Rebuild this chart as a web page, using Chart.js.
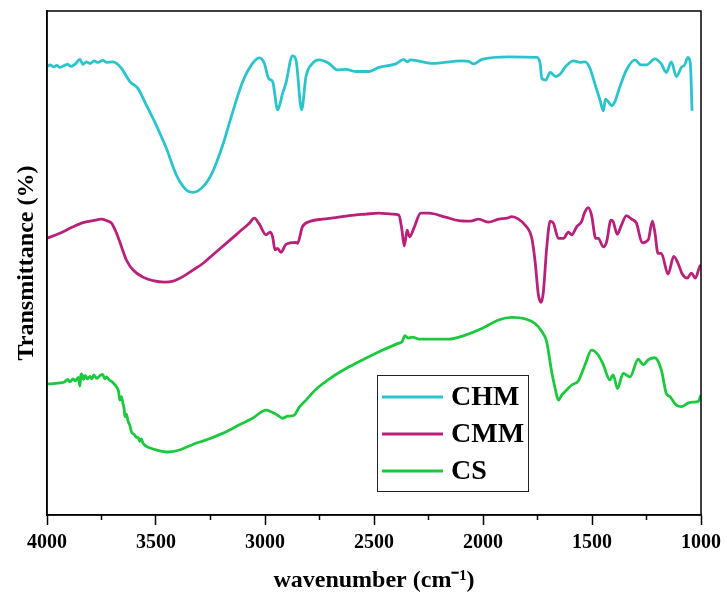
<!DOCTYPE html>
<html>
<head>
<meta charset="utf-8">
<script src="https://cdn.jsdelivr.net/npm/chart.js@4.4.0/dist/chart.umd.min.js"></script>
<style>
body { margin: 0; background: #fff; }
#wrap { width: 727px; height: 598px; }
</style>
</head>
<body>
<div id="wrap"><canvas id="ftirChart"></canvas></div>
<script>
// FTIR spectra, wavenumber in cm-1, transmittance in arbitrary offset units
var seriesNames = ['CHM', 'CMM', 'CS'];
var seriesColors = ['rgb(44, 196, 204)', 'rgb(184, 32, 122)', 'rgb(28, 200, 62)'];
var majorTicks = [4000, 3500, 3000, 2500, 2000, 1500, 1000];
var minorTicks = [3750, 3250, 2750, 2250, 1750, 1250];

var chmWn = [4000, 3985, 3970, 3955, 3941, 3925, 3905, 3890, 3870, 3849, 3835, 3820, 3800, 3785, 3765, 3744, 3725, 3700, 3681, 3658, 3620, 3584, 3544, 3506, 3453, 3407, 3361, 3331, 3285, 3240, 3194, 3148, 3102, 3057, 3026, 3003, 2983, 2965, 2942, 2919, 2904, 2874, 2858, 2832, 2812, 2782, 2752, 2706, 2668, 2629, 2584, 2523, 2477, 2401, 2363, 2348, 2332, 2233, 2096, 2066, 2043, 2005, 1883, 1753, 1738, 1730, 1712, 1692, 1666, 1646, 1623, 1585, 1555, 1532, 1509, 1483, 1463, 1448, 1438, 1425, 1410, 1395, 1372, 1342, 1303, 1276, 1250, 1212, 1182, 1159, 1136, 1113, 1090, 1075, 1060, 1049, 1041];
var chmT = [89.0, 89.3, 88.9, 89.2, 88.8, 89.1, 89.4, 89.0, 89.5, 90.4, 89.4, 89.9, 89.6, 90.1, 89.8, 90.2, 89.8, 89.9, 89.6, 88.6, 86.0, 84.7, 81.3, 78.0, 72.8, 67.5, 64.5, 64.0, 65.1, 68.1, 73.4, 80.0, 86.0, 89.6, 90.7, 89.6, 86.6, 86.0, 80.4, 83.7, 85.7, 91.1, 90.3, 80.4, 87.0, 89.6, 90.3, 89.6, 88.3, 88.4, 88.0, 88.0, 88.8, 89.5, 90.4, 89.9, 90.3, 89.6, 90.1, 90.0, 89.5, 90.4, 90.9, 90.8, 89.6, 86.6, 86.3, 87.8, 87.0, 87.5, 88.9, 90.1, 89.8, 89.9, 88.6, 85.0, 82.3, 80.2, 82.5, 82.0, 81.2, 82.0, 85.0, 88.3, 90.3, 89.3, 89.3, 90.5, 89.5, 87.8, 89.9, 87.0, 88.8, 89.3, 90.8, 89.6, 80.2];

var cmmWn = [4000, 3941, 3880, 3834, 3788, 3750, 3727, 3704, 3681, 3658, 3636, 3605, 3560, 3514, 3460, 3422, 3377, 3331, 3285, 3240, 3178, 3117, 3072, 3049, 3026, 2995, 2977, 2965, 2954, 2942, 2927, 2904, 2858, 2851, 2828, 2790, 2736, 2675, 2614, 2538, 2477, 2416, 2386, 2373, 2361, 2348, 2337, 2317, 2286, 2248, 2172, 2111, 2058, 2020, 1974, 1928, 1890, 1868, 1837, 1806, 1776, 1761, 1746, 1733, 1723, 1708, 1692, 1677, 1654, 1631, 1608, 1593, 1570, 1548, 1535, 1517, 1502, 1483, 1471, 1448, 1433, 1413, 1403, 1384, 1365, 1342, 1319, 1296, 1270, 1242, 1223, 1212, 1197, 1182, 1151, 1125, 1105, 1086, 1063, 1044, 1026, 1006, 1000];
var cmmT = [54.9, 55.9, 57.2, 58.0, 58.4, 58.7, 58.4, 57.9, 55.9, 53.2, 50.6, 48.6, 47.2, 46.5, 46.2, 46.4, 47.3, 48.6, 49.9, 51.6, 53.9, 56.2, 57.9, 58.9, 57.7, 55.6, 56.1, 55.2, 52.6, 52.9, 52.1, 53.7, 54.1, 53.9, 57.2, 58.3, 58.7, 59.0, 59.4, 59.7, 59.9, 59.7, 59.5, 56.9, 53.4, 56.5, 55.2, 56.9, 59.9, 59.9, 59.1, 58.4, 58.3, 58.7, 58.1, 58.7, 58.9, 59.2, 58.7, 57.5, 54.9, 50.3, 43.7, 42.2, 44.3, 52.9, 58.3, 57.9, 54.9, 54.9, 56.1, 55.6, 57.2, 58.2, 59.9, 61.0, 59.5, 54.9, 54.9, 53.2, 54.2, 58.5, 58.2, 55.7, 57.5, 59.4, 58.7, 57.9, 54.0, 54.6, 58.3, 56.2, 51.9, 51.9, 47.8, 51.3, 49.9, 47.8, 47.0, 48.0, 47.0, 49.3, 49.6];

var csWn = [4000, 3960, 3941, 3920, 3905, 3895, 3880, 3870, 3857, 3849, 3845, 3841, 3832, 3825, 3815, 3803, 3795, 3785, 3772, 3758, 3745, 3735, 3727, 3715, 3704, 3692, 3681, 3672, 3666, 3659, 3651, 3646, 3643, 3636, 3628, 3620, 3613, 3600, 3590, 3582, 3575, 3567, 3560, 3544, 3520, 3498, 3445, 3392, 3331, 3270, 3194, 3117, 3057, 2995, 2972, 2942, 2919, 2897, 2866, 2843, 2812, 2767, 2691, 2614, 2538, 2462, 2386, 2371, 2358, 2343, 2325, 2294, 2233, 2157, 2081, 2005, 1928, 1868, 1806, 1761, 1730, 1708, 1685, 1669, 1654, 1639, 1623, 1593, 1563, 1532, 1502, 1471, 1448, 1418, 1403, 1383, 1357, 1326, 1288, 1265, 1242, 1212, 1182, 1159, 1143, 1113, 1090, 1060, 1037, 1014, 1000];
var csT = [26.0, 26.1, 26.2, 26.4, 26.9, 26.4, 27.0, 26.6, 27.3, 25.6, 27.6, 28.0, 26.9, 27.7, 27.0, 27.5, 27.0, 27.8, 27.1, 27.6, 27.9, 27.0, 27.4, 26.8, 26.5, 26.0, 25.4, 24.6, 22.8, 23.5, 22.0, 21.0, 19.5, 20.0, 18.6, 17.8, 16.5, 16.0, 15.4, 15.4, 14.6, 15.1, 14.3, 13.6, 13.2, 12.9, 12.5, 12.9, 14.0, 14.9, 16.2, 17.9, 19.2, 20.8, 20.5, 19.8, 19.2, 19.6, 19.8, 21.4, 22.8, 24.9, 27.4, 29.4, 31.1, 32.7, 34.1, 34.4, 35.6, 35.1, 35.3, 34.9, 34.9, 34.9, 35.7, 37.0, 38.7, 39.2, 38.9, 38.0, 36.4, 34.4, 28.4, 25.1, 22.8, 23.8, 24.5, 25.8, 26.6, 29.8, 32.7, 31.7, 29.8, 26.8, 27.8, 25.1, 28.1, 27.4, 30.9, 29.8, 30.8, 31.2, 28.8, 24.1, 23.5, 21.8, 21.5, 22.2, 22.4, 22.5, 23.8];

var serif = "'Liberation Serif', 'Times New Roman', serif";

function toPoints(wn, t) {
    return wn.map(function (w, i) { return { x: w, y: t[i] }; });
}

// frame, minor ticks and the boxed legend
var extras = {
    id: 'extras',
    afterDraw: function (chart) {
        var ctx = chart.ctx;
        var ca = chart.chartArea;
        var xs = chart.scales.x;
        ctx.save();
        ctx.strokeStyle = '#000';
        ctx.lineWidth = 1.5;
        ctx.strokeRect(ca.left, ca.top, ca.right - ca.left, ca.bottom - ca.top);
        minorTicks.forEach(function (v) {
            var px = xs.getPixelForValue(v);
            ctx.beginPath();
            ctx.moveTo(px, ca.bottom);
            ctx.lineTo(px, ca.bottom + 5);
            ctx.stroke();
        });

        var bx = ca.left + 330, by = ca.top + 364;
        ctx.fillStyle = '#fff';
        ctx.fillRect(bx, by, 151, 116);
        ctx.lineWidth = 1;
        ctx.strokeStyle = '#222';
        ctx.strokeRect(bx + 0.5, by + 0.5, 151, 116);
        ctx.font = 'bold 28px ' + serif;
        ctx.textBaseline = 'middle';
        chart.data.datasets.forEach(function (ds, i) {
            var yy = by + 22 + i * 37;
            ctx.strokeStyle = ds.borderColor;
            ctx.lineWidth = 3;
            ctx.beginPath();
            ctx.moveTo(bx + 5, yy);
            ctx.lineTo(bx + 66, yy);
            ctx.stroke();
            ctx.fillStyle = '#000';
            ctx.fillText(ds.label, bx + 74, yy + 1);
        });
        ctx.restore();
    }
};

var ctx = document.getElementById('ftirChart').getContext('2d');
var myChart = new Chart(ctx, {
    type: 'line',
    data: {
        datasets: [
            { label: seriesNames[0], data: toPoints(chmWn, chmT), borderColor: seriesColors[0] },
            { label: seriesNames[1], data: toPoints(cmmWn, cmmT), borderColor: seriesColors[1] },
            { label: seriesNames[2], data: toPoints(csWn, csT), borderColor: seriesColors[2] }
        ]
    },
    options: {
        responsive: true,
        maintainAspectRatio: false,
        animation: false,
        layout: { padding: { top: 11, right: 24, bottom: 0, left: 0 } },
        elements: {
            point: { radius: 0 },
            line: { borderWidth: 2.8, cubicInterpolationMode: 'monotone', fill: false }
        },
        plugins: {
            legend: { display: false },
            tooltip: { enabled: false }
        },
        scales: {
            x: {
                type: 'linear',
                reverse: true,
                min: 1000,
                max: 4000,
                afterBuildTicks: function (scale) {
                    scale.ticks = majorTicks.map(function (v) { return { value: v }; });
                },
                afterFit: function (scale) { scale.height = 83; },
                grid: { drawOnChartArea: false, tickLength: 10, tickColor: '#000', tickWidth: 1.5 },
                border: { color: '#000', width: 1.5 },
                ticks: {
                    color: '#000',
                    padding: 6,
                    maxRotation: 0,
                    font: { family: serif, size: 20, weight: 'bold' },
                    callback: function (v) { return String(v); }
                },
                title: {
                    display: true,
                    text: 'wavenumber (cm\u207B\u00B9)',
                    color: '#000',
                    padding: { top: 0, bottom: 3 },
                    font: { family: serif, size: 24, weight: 'bold' }
                }
            },
            y: {
                min: 0,
                max: 100,
                afterFit: function (scale) { scale.width = 47; },
                grid: { display: false },
                border: { color: '#000', width: 1.5 },
                ticks: { display: false },
                title: {
                    display: true,
                    text: 'Transmittance (%)',
                    color: '#000',
                    padding: { top: 12, bottom: 0 },
                    font: { family: serif, size: 24, weight: 'bold' }
                }
            }
        }
    },
    plugins: [extras]
});
</script>
</body>
</html>
